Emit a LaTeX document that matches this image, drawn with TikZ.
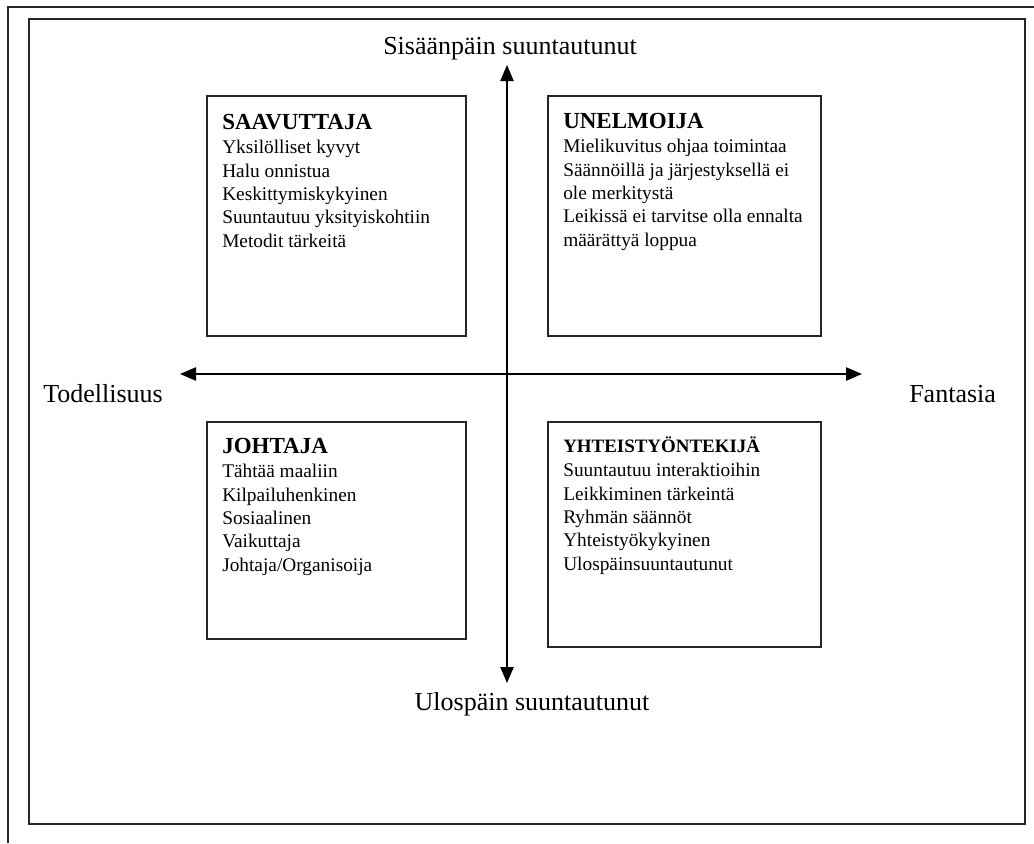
\documentclass[tikz,border=0pt]{standalone}
\usepackage{fontspec}
\setmainfont{Liberation Serif}
\usetikzlibrary{arrows.meta}
\begin{document}
\begin{tikzpicture}[x=0.75pt,y=-0.75pt,
  frame/.style={draw=black!85,line width=1.4pt},
  card/.style={draw=black!85,line width=1pt,inner sep=0pt},
  tip/.style={Triangle[length=12pt,width=10pt]},
  axis/.style={draw=black,line width=1pt,{Triangle[length=12pt,width=10pt]}-{Triangle[length=12pt,width=10pt]}},
  axislabel/.style={font=\fontsize{19.5}{22}\selectfont,inner sep=0pt},
  cardtext/.style={anchor=base west,inner sep=0pt,font=\fontsize{14.5}{17.6}\selectfont,align=left}
]
\useasboundingbox (0,0) rectangle (1034,843);

% page frames
\draw[frame] (8,843) -- (8,7) -- (1034,7);
\draw[frame] (29,19) rectangle (1025,824);

% the four quadrant cards
\node[card,minimum width=194.25pt,minimum height=180pt] (saavuttaja) at (336.5,216) {};
\node[card,minimum width=204.75pt,minimum height=180pt] (unelmoija) at (684.5,216) {};
\node[card,minimum width=194.25pt,minimum height=162.75pt] (johtaja) at (336.5,530.5) {};
\node[card,minimum width=204.75pt,minimum height=168.75pt] (yhteistyo) at (684.5,534.5) {};

\node[cardtext] (saavuttajatext) at (222,129) {\vtop{%
  \hbox{\bfseries\fontsize{17.25}{17.6}\selectfont SAAVUTTAJA}\vskip0.8pt
  \hbox{Yksilölliset kyvyt}
  \hbox{Halu onnistua}
  \hbox{Keskittymiskykyinen}
  \hbox{Suuntautuu yksityiskohtiin}
  \hbox{Metodit tärkeitä}}};

\node[cardtext] (unelmoijatext) at (563,128) {\vtop{%
  \hbox{\bfseries\fontsize{17.25}{17.6}\selectfont UNELMOIJA}\vskip0.8pt
  \hbox{Mielikuvitus ohjaa toimintaa}
  \hbox{Säännöillä ja järjestyksellä ei}
  \hbox{ole merkitystä}
  \hbox{Leikissä ei tarvitse olla ennalta}
  \hbox{määrättyä loppua}}};

\node[cardtext] (johtajatext) at (222,453) {\vtop{%
  \hbox{\bfseries\fontsize{17.25}{17.6}\selectfont JOHTAJA}\vskip0.8pt
  \hbox{Tähtää maaliin}
  \hbox{Kilpailuhenkinen}
  \hbox{Sosiaalinen}
  \hbox{Vaikuttaja}
  \hbox{Johtaja/Organisoija}}};

\node[cardtext] (yhteistyotext) at (563,452) {\vtop{%
  \hbox{\bfseries\fontsize{14.2}{17.6}\selectfont YHTEISTYÖNTEKIJÄ}\vskip0.8pt
  \hbox{Suuntautuu interaktioihin}
  \hbox{Leikkiminen tärkeintä}
  \hbox{Ryhmän säännöt}
  \hbox{Yhteistyökykyinen}
  \hbox{Ulospäinsuuntautunut}}};

% axes
\coordinate (top) at (507,65);
\coordinate (bottom) at (507,683);
\coordinate (left) at (180,374);
\coordinate (right) at (862,374);
\draw[axis] (bottom) -- (top);
\draw[axis] (left) -- (right);

% axis labels
\node[axislabel,anchor=base] (inward) at (510,54) {Sisäänpäin suuntautunut};
\node[axislabel,anchor=base] (outward) at (532,710) {Ulospäin suuntautunut};
\node[axislabel,anchor=base west] (reality) at (43,402) {Todellisuus};
\node[axislabel,anchor=base west] (fantasy) at (909,402) {Fantasia};
\end{tikzpicture}
\end{document}
